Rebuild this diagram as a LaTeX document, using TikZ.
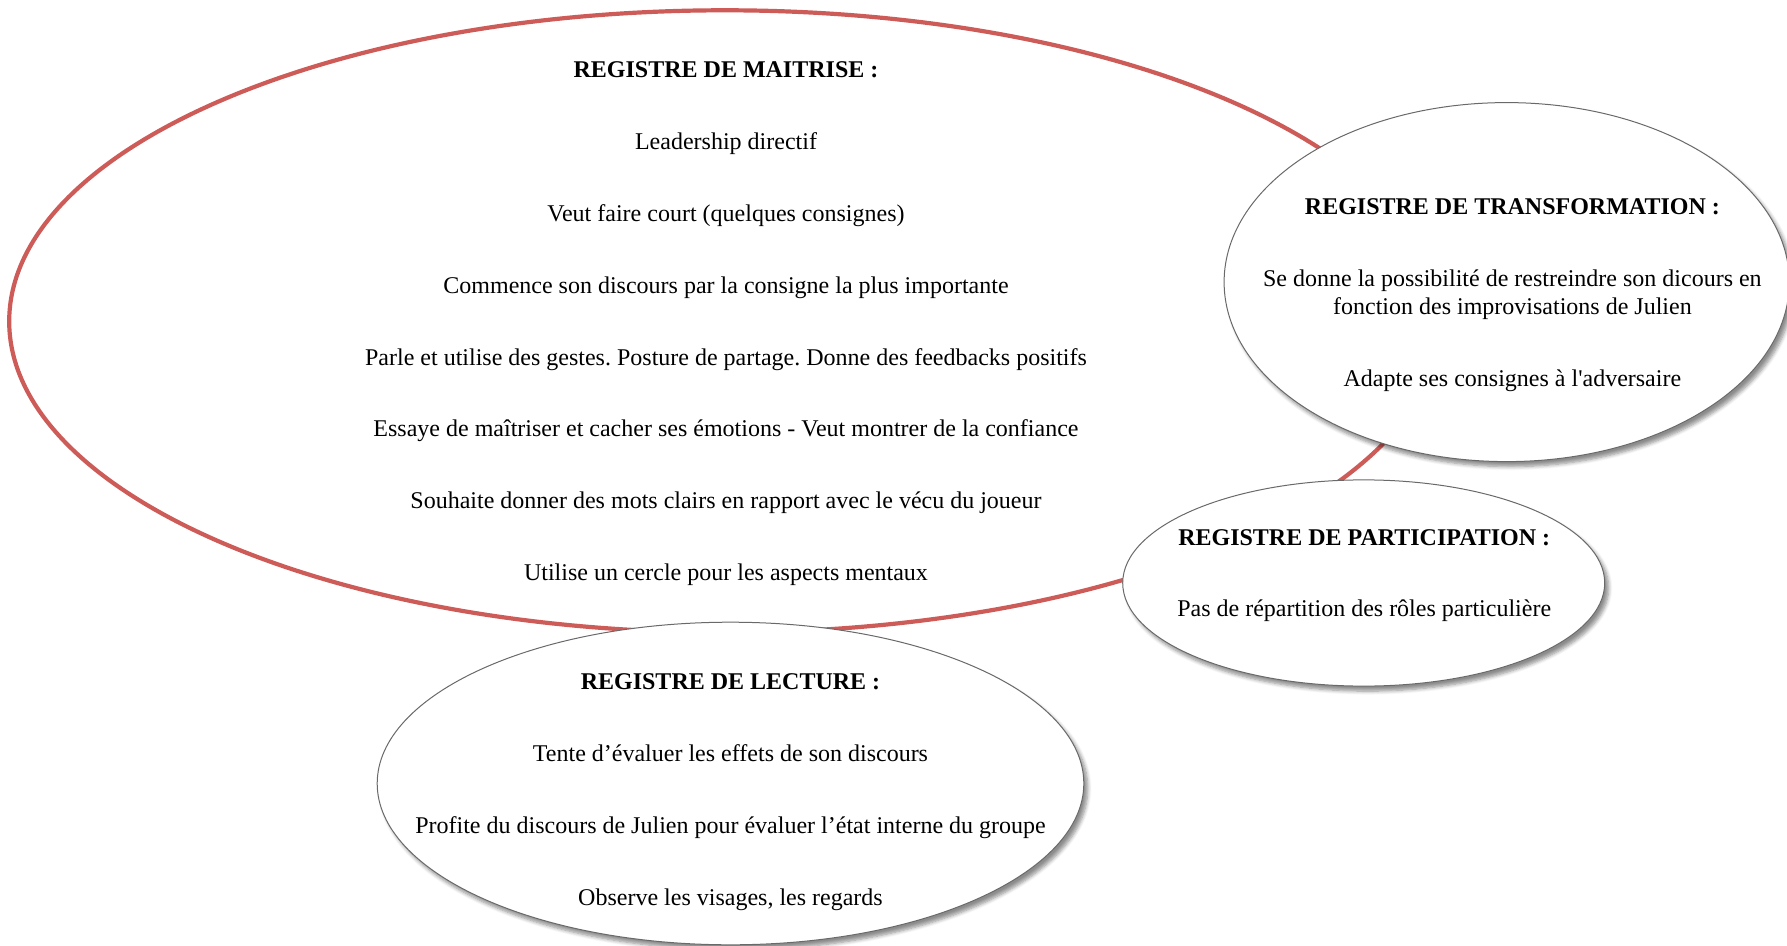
\documentclass[tikz,border=0pt]{standalone}
\usepackage{fontspec}
\setmainfont{Liberation Serif}
\usetikzlibrary{positioning,shapes.geometric,shadows.blur}
\definecolor{regred}{RGB}{205,92,88}
\definecolor{reggrey}{RGB}{105,105,105}

\begin{document}
\frenchspacing
\begin{tikzpicture}[x=0.5pt,y=-0.5pt,font=\fontsize{12}{13.7}\selectfont,node distance=24.1pt,
    txt/.style={inner sep=0pt,text height=8.7pt,text depth=2.7pt},
    ttl/.style={txt,font=\fontsize{12}{13.7}\selectfont\bfseries},
    regring/.style={ellipse,draw=regred,line width=2.1pt,inner sep=0pt},
    regbox/.style={ellipse,draw=reggrey,line width=0.5pt,fill=white,inner sep=0pt,
      blur shadow={shadow xshift=2pt,shadow yshift=-2.5pt,shadow blur steps=6,shadow opacity=45}}]
    \useasboundingbox (0,0) rectangle (1787,946);
    % registre de maitrise
    \node[regring,minimum width=715.7pt,minimum height=311.1pt] (maitrise) at (724.9,321.4) {};
    \node[ttl] (maitT) at (726,71.8) {REGISTRE DE MAITRISE :};
    \node[txt,below=of maitT] (maitA) {Leadership directif};
    \node[txt,below=of maitA] (maitB) {Veut faire court (quelques consignes)};
    \node[txt,below=of maitB] (maitC) {Commence son discours par la consigne la plus importante};
    \node[txt,below=of maitC] (maitD) {Parle et utilise des gestes. Posture de partage. Donne des feedbacks positifs};
    \node[txt,below=of maitD] (maitE) {Essaye de maîtriser et cacher ses émotions - Veut montrer de la confiance};
    \node[txt,below=of maitE] (maitF) {Souhaite donner des mots clairs en rapport avec le vécu du joueur};
    \node[txt,below=of maitF] (maitG) {Utilise un cercle pour les aspects mentaux};
    % registre de transformation
    \node[regbox,minimum width=282.6pt,minimum height=179.5pt] (transfo) at (1506.7,282.1) {};
    \node[ttl] (transT) at (1512.4,208.5) {REGISTRE DE TRANSFORMATION :};
    \node[txt,below=of transT] (transA) {Se donne la possibilité de restreindre son dicours en};
    \node[txt,below=2.3pt of transA] (transB) {fonction des improvisations de Julien};
    \node[txt,below=of transB] (transC) {Adapte ses consignes à l\textquotesingle{}adversaire};
    % registre de participation
    \node[regbox,minimum width=241pt,minimum height=103.1pt] (partic) at (1363.7,583) {};
    \node[ttl] (partT) at (1364.2,539.1) {REGISTRE DE PARTICIPATION :};
    \node[txt,below=of partT] (partA) {Pas de répartition des rôles particulière};
    % registre de lecture
    \node[regbox,minimum width=353.3pt,minimum height=161.3pt] (lecture) at (730.5,783.5) {};
    \node[ttl] (lectT) at (730.5,683.8) {REGISTRE DE LECTURE :};
    \node[txt,below=of lectT] (lectA) {Tente d’évaluer les effets de son discours};
    \node[txt,below=of lectA] (lectB) {Profite du discours de Julien pour évaluer l’état interne du groupe};
    \node[txt,below=of lectB] (lectC) {Observe les visages, les regards};
  \end{tikzpicture}
\end{document}
